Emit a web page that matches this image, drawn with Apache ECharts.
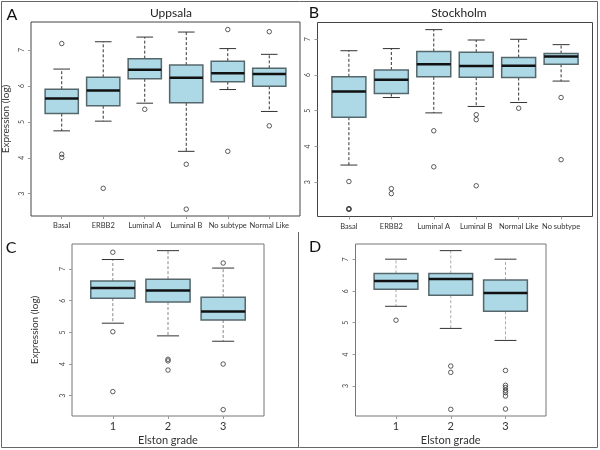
<!DOCTYPE html>
<html><head><meta charset="utf-8">
<script src="https://cdn.jsdelivr.net/npm/echarts@6/dist/echarts.min.js"></script>
<style>html,body{margin:0;padding:0;background:#fff}#c{width:600px;height:450px}</style>
</head><body><div id="c"></div>
<script>
// ---------- Data ----------
// Panel A: Uppsala by subtype
const uppsalaCats = ['Basal','ERBB2','Luminal A','Luminal B','No subtype','Normal Like'];
const uppsalaMin  = [4.75, 5.02, 5.52, 4.18, 5.90, 5.29];
const uppsalaQ1   = [5.23, 5.45, 6.20, 5.53, 6.12, 5.99];
const uppsalaMed  = [5.65, 5.87, 6.45, 6.23, 6.35, 6.33];
const uppsalaQ3   = [5.91, 6.24, 6.76, 6.58, 6.69, 6.49];
const uppsalaMax  = [6.47, 7.23, 7.36, 7.50, 7.04, 6.88];
const uppsalaOut  = [[7.18, 4.10, 4.01], [3.15], [5.35], [3.82, 2.57], [7.57, 4.18], [7.51, 4.89]];

// Panel B: Stockholm by subtype
const stockholmCats = ['Basal','ERBB2','Luminal A','Luminal B','Normal Like','No subtype'];
const stockholmMin  = [3.48, 5.37, 4.94, 5.12, 5.23, 5.83];
const stockholmQ1   = [4.82, 5.48, 5.95, 5.94, 5.93, 6.30];
const stockholmMed  = [5.54, 5.87, 6.30, 6.25, 6.26, 6.52];
const stockholmQ3   = [5.95, 6.14, 6.66, 6.64, 6.49, 6.60];
const stockholmMax  = [6.68, 6.74, 7.27, 6.98, 7.00, 6.85];
const stockholmOut  = [[3.02, 2.26, 2.24, 2.25], [2.82, 2.68], [4.44, 3.43], [4.89, 4.75, 2.90], [5.07], [5.37, 3.63]];

// Panel C: Uppsala by Elston grade
const gradeCats = ['1','2','3'];
const upGradeMin = [5.29, 4.89, 4.72];
const upGradeQ1  = [6.08, 5.96, 5.39];
const upGradeMed = [6.40, 6.32, 5.66];
const upGradeQ3  = [6.62, 6.68, 6.11];
const upGradeMax = [7.30, 7.58, 7.03];
const upGradeOut = [[7.53, 5.02, 3.13], [4.15, 4.10, 3.81], [7.19, 4.00, 2.56]];

// Panel D: Stockholm by Elston grade
const stGradeMin = [5.52, 4.82, 4.44];
const stGradeQ1  = [6.06, 5.87, 5.36];
const stGradeMed = [6.32, 6.38, 5.94];
const stGradeQ3  = [6.56, 6.56, 6.35];
const stGradeMax = [7.01, 7.28, 7.01];
const stGradeOut = [[5.08], [3.63, 3.43, 2.26], [3.49, 3.02, 2.95, 2.86, 2.79, 2.68, 2.27]];

const yTicks = [3, 4, 5, 6, 7];

// ---------- Helpers ----------
const FONT = 'Lato, "Open Sans", sans-serif';
function boxRows(mn, q1, md, q3, mx) {
  return mn.map((v, i) => [i + 1, mn[i], q1[i], md[i], q3[i], mx[i]]);
}
function outRows(out) {
  const r = [];
  out.forEach((arr, i) => arr.forEach(v => r.push([i + 1, v])));
  return r;
}
function makeRender(whiskerColor) {
  return function (params, api) {
    const x = api.value(0), lo = api.value(1), q1 = api.value(2), md = api.value(3), q3 = api.value(4), hi = api.value(5);
    const hw = 0.4, cw = 0.2;
    const c = (a, b) => api.coord([a, b]);
    const pTL = c(x - hw, q3), pBR = c(x + hw, q1);
    const pc = c(x, 0)[0];
    const line = (p1, p2, style) => ({ type: 'line', shape: { x1: p1[0], y1: p1[1], x2: p2[0], y2: p2[1] }, style });
    const dash = { stroke: whiskerColor, lineWidth: 1, lineDash: [3, 2] };
    const cap = { stroke: '#333', lineWidth: 1 };
    return {
      type: 'group',
      children: [
        line([pc, c(x, q3)[1]], [pc, c(x, hi)[1]], dash),
        line([pc, c(x, q1)[1]], [pc, c(x, lo)[1]], dash),
        line(c(x - cw, hi), c(x + cw, hi), cap),
        line(c(x - cw, lo), c(x + cw, lo), cap),
        { type: 'rect', shape: { x: pTL[0], y: pTL[1], width: pBR[0] - pTL[0], height: pBR[1] - pTL[1] },
          style: { fill: '#add8e6', stroke: '#56676c', lineWidth: 1.5 } },
        line(c(x - hw, md), c(x + hw, md), { stroke: '#111', lineWidth: 2.5 })
      ]
    };
  };
}
function xAxisFor(idx, cats, labelSize, margin) {
  const vals = cats.map((c, i) => i + 1);
  return {
    gridIndex: idx, type: 'value', min: 0.26, max: cats.length + 0.74,
    splitLine: { show: false }, axisLine: { show: false },
    axisTick: { show: true, customValues: vals, length: 3, lineStyle: { color: '#999' } },
    axisLabel: { show: true, customValues: vals, formatter: v => cats[Math.round(v) - 1], fontSize: labelSize, color: '#333', margin: margin, fontFamily: FONT }
  };
}
function yAxisFor(idx, mn, mx, name, nameGap, nameSize) {
  return {
    gridIndex: idx, type: 'value', min: mn, max: mx,
    splitLine: { show: false }, axisLine: { show: false },
    axisTick: { show: true, customValues: yTicks, length: 3, lineStyle: { color: '#999' } },
    axisLabel: { show: true, customValues: yTicks, rotate: 90, fontSize: 7, color: '#444', margin: 6, fontFamily: FONT },
    name: name, nameLocation: 'middle', nameGap: nameGap, nameRotate: 90,
    nameTextStyle: { fontSize: nameSize, color: '#333', fontFamily: FONT }
  };
}
function panelSeries(idx, rows, outs, whiskerColor) {
  return [
    { type: 'custom', xAxisIndex: idx, yAxisIndex: idx, data: rows, encode: { x: 0, y: [1, 2, 3, 4, 5] }, renderItem: makeRender(whiskerColor), z: 2 },
    { type: 'scatter', xAxisIndex: idx, yAxisIndex: idx, data: outs, symbol: 'circle', symbolSize: 4.5,
      itemStyle: { color: 'rgba(255,255,255,0)', borderColor: '#333', borderWidth: 0.8, opacity: 1 }, z: 3 }
  ];
}

const chart = echarts.init(document.getElementById('c'), null, { renderer: 'canvas' });
const gridBase = { show: true, borderWidth: 1, backgroundColor: 'transparent' };
chart.setOption({
  animation: false,
  textStyle: { fontFamily: FONT },
  grid: [
    Object.assign({ left: 31, top: 22, width: 269, height: 194, borderColor: '#444' }, gridBase),
    Object.assign({ left: 317.5, top: 22.5, width: 275, height: 194, borderColor: '#444' }, gridBase),
    Object.assign({ left: 72, top: 244, width: 192, height: 172, borderColor: '#777' }, gridBase),
    Object.assign({ left: 355.5, top: 244, width: 190.5, height: 172, borderColor: '#777' }, gridBase)
  ],
  xAxis: [
    xAxisFor(0, uppsalaCats, 7.5, 6),
    xAxisFor(1, stockholmCats, 7.5, 6),
    Object.assign(xAxisFor(2, gradeCats, 11, 5), { name: 'Elston grade', nameLocation: 'middle', nameGap: 19, nameTextStyle: { fontSize: 11, color: '#333', fontFamily: FONT } }),
    Object.assign(xAxisFor(3, gradeCats, 11, 5), { name: 'Elston grade', nameLocation: 'middle', nameGap: 19, nameTextStyle: { fontSize: 11, color: '#333', fontFamily: FONT } })
  ],
  yAxis: [
    yAxisFor(0, 2.38, 7.78, 'Expression (log)', 20, 10),
    yAxisFor(1, 2.04, 7.47, '', 20, 10),
    yAxisFor(2, 2.36, 7.79, 'Expression (log)', 32, 10),
    yAxisFor(3, 2.05, 7.49, '', 20, 10)
  ],
  series: [].concat(
    panelSeries(0, boxRows(uppsalaMin, uppsalaQ1, uppsalaMed, uppsalaQ3, uppsalaMax), outRows(uppsalaOut), '#333'),
    panelSeries(1, boxRows(stockholmMin, stockholmQ1, stockholmMed, stockholmQ3, stockholmMax), outRows(stockholmOut), '#333'),
    panelSeries(2, boxRows(upGradeMin, upGradeQ1, upGradeMed, upGradeQ3, upGradeMax), outRows(upGradeOut), '#888'),
    panelSeries(3, boxRows(stGradeMin, stGradeQ1, stGradeMed, stGradeQ3, stGradeMax), outRows(stGradeOut), '#aaa')
  ),
  graphic: [
    { type: 'rect', shape: { x: 1.5, y: 1.5, width: 596, height: 446 }, style: { fill: 'none', stroke: '#666', lineWidth: 1 }, silent: true },
    { type: 'line', shape: { x1: 298.5, y1: 232, x2: 298.5, y2: 448 }, style: { stroke: '#666', lineWidth: 1 }, silent: true },
    { type: 'text', x: 171, y: 13, style: { text: 'Uppsala', fontSize: 12, fontFamily: FONT, fill: '#222', align: 'center', verticalAlign: 'middle' } },
    { type: 'text', x: 459, y: 13, style: { text: 'Stockholm', fontSize: 12, fontFamily: FONT, fill: '#222', align: 'center', verticalAlign: 'middle' } },
    { type: 'text', x: 12, y: 15, style: { text: 'A', fontSize: 16, fontFamily: FONT, fill: '#111', align: 'center', verticalAlign: 'middle' } },
    { type: 'text', x: 314, y: 13, style: { text: 'B', fontSize: 16, fontFamily: FONT, fill: '#111', align: 'center', verticalAlign: 'middle' } },
    { type: 'text', x: 11, y: 248, style: { text: 'C', fontSize: 16, fontFamily: FONT, fill: '#111', align: 'center', verticalAlign: 'middle' } },
    { type: 'text', x: 315, y: 247, style: { text: 'D', fontSize: 16, fontFamily: FONT, fill: '#111', align: 'center', verticalAlign: 'middle' } }
  ]
});
</script>
</body></html>
